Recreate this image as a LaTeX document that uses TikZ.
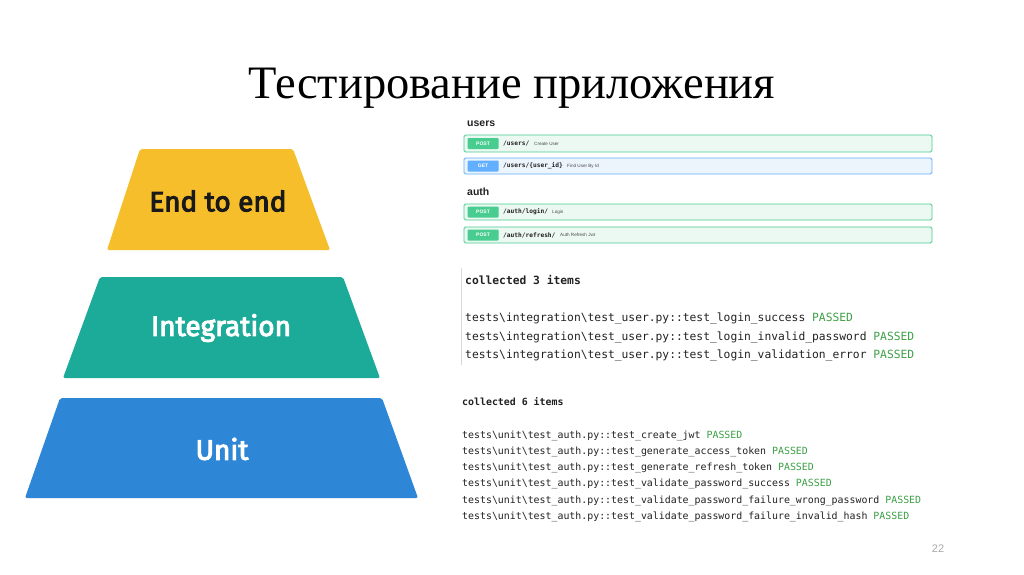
\documentclass[tikz,border=0pt]{standalone}
\usepackage{fontspec}
\setmainfont{Liberation Serif}
\newfontfamily\pyrfont[FakeBold=3.5]{Fira Sans}
\newfontfamily\codefont{DejaVu Sans Mono}
\newfontfamily\uifont{Liberation Sans}
\definecolor{eyellow}{RGB}{245,190,42}
\definecolor{iteal}{RGB}{27,171,152}
\definecolor{ublue}{RGB}{45,134,214}
\definecolor{postgreen}{RGB}{73,204,144}
\definecolor{postbg}{RGB}{236,248,242}
\definecolor{getblue}{RGB}{97,175,254}
\definecolor{getbg}{RGB}{236,244,252}
\definecolor{passgreen}{RGB}{60,160,70}
\definecolor{codeink}{RGB}{34,34,34}
\definecolor{pagegray}{RGB}{170,170,170}
\newcommand\bs{\textbackslash}
\newcommand\ok{\textcolor{passgreen}{PASSED}}
\begin{document}
\begin{tikzpicture}[x=1pt,y=-1pt,
  lvl/.style={font=\pyrfont\fontsize{28}{30}\selectfont},
  codeA/.style={anchor=base west,inner sep=0pt,text=codeink,font=\codefont\fontsize{11.3}{13}\selectfont},
  codeB/.style={anchor=base west,inner sep=0pt,text=codeink,font=\codefont\fontsize{9.9}{12}\selectfont},
  sect/.style={anchor=base west,inner sep=0pt,text=codeink,font=\uifont\bfseries\fontsize{10.5}{12}\selectfont},
  postrow/.style={draw=postgreen,fill=postbg,line width=0.8pt,rounded corners=1.5pt},
  getrow/.style={draw=getblue,fill=getbg,line width=0.8pt,rounded corners=1.5pt},
  badge/.style={inner sep=0pt,minimum width=31pt,minimum height=11pt,text=white,rounded corners=1pt,font=\uifont\bfseries\fontsize{5}{6}\selectfont},
  path/.style={anchor=west,inner sep=0pt,text=codeink,font=\codefont\bfseries\fontsize{6.2}{7}\selectfont},
  desc/.style={anchor=west,inner sep=0pt,text=black!70,font=\uifont\fontsize{4.6}{5}\selectfont}]
\useasboundingbox (0,0) rectangle (1024,574);
\fill[white] (0,0) rectangle (1024,574);

% title
\node[inner sep=0pt] (title) at (512,88) {\fontsize{46.5}{52}\selectfont Тестирование приложения};

% pyramid
\fill[eyellow,rounded corners=2pt] (140,149) -- (293,149) -- (330,250) -- (107,250) -- cycle;
\fill[iteal,rounded corners=2pt] (100,277) -- (343,277) -- (380,378) -- (63,378) -- cycle;
\fill[ublue,rounded corners=2pt] (60,398) -- (382,398) -- (418,498) -- (25,498) -- cycle;
\node[lvl,text=black!90] (e2e) at (218,201) {End to end};
\node[lvl,text=white] (integ) at (221,328) {Integration};
\node[lvl,text=white] (unit) at (222,449) {Unit};

% swagger panel
\node[sect] (users) at (467,126) {users};
\draw[postrow] (464,135) rectangle (932,152);
\node[badge,fill=postgreen] (b1) at (483,143.5) {POST};
\node[path] (p1) at (503,143.5) {/users/};
\node[desc] (d1) at (534,143.5) {Create User};
\draw[getrow] (464,158) rectangle (932,174);
\node[badge,fill=getblue] (b2) at (483,166) {GET};
\node[path] (p2) at (503,166) {/users/\{user\_id\}};
\node[desc] (d2) at (567,166) {Find User By Id};
\node[sect] (auth) at (467,195) {auth};
\draw[postrow] (464,204) rectangle (932,220);
\node[badge,fill=postgreen] (b3) at (483,212) {POST};
\node[path] (p3) at (503,212) {/auth/login/};
\node[desc] (d3) at (552,212) {Login};
\draw[postrow] (464,227) rectangle (932,243);
\node[badge,fill=postgreen] (b4) at (483,235) {POST};
\node[path] (p4) at (503,235) {/auth/refresh/};
\node[desc] (d4) at (560,235) {Auth Refresh Jwt};

% integration test output
\draw[black!15,line width=0.8pt] (461,268) -- (461,365);
\node[codeA,font=\codefont\bfseries\fontsize{11.3}{13}\selectfont] (c3) at (465,284) {collected 3 items};
\node[codeA] (i1) at (465,321) {tests\bs integration\bs test\_user.py::test\_login\_success \ok};
\node[codeA] (i2) at (465,340) {tests\bs integration\bs test\_user.py::test\_login\_invalid\_password \ok};
\node[codeA] (i3) at (465,358) {tests\bs integration\bs test\_user.py::test\_login\_validation\_error \ok};

% unit test output
\node[codeB,font=\codefont\bfseries\fontsize{9.9}{12}\selectfont] (c6) at (462,405.5) {collected 6 items};
\node[codeB] (u1) at (462,438.5) {tests\bs unit\bs test\_auth.py::test\_create\_jwt \ok};
\node[codeB] (u2) at (462,454.5) {tests\bs unit\bs test\_auth.py::test\_generate\_access\_token \ok};
\node[codeB] (u3) at (462,470.5) {tests\bs unit\bs test\_auth.py::test\_generate\_refresh\_token \ok};
\node[codeB] (u4) at (462,486.5) {tests\bs unit\bs test\_auth.py::test\_validate\_password\_success \ok};
\node[codeB] (u5) at (462,503.5) {tests\bs unit\bs test\_auth.py::test\_validate\_password\_failure\_wrong\_password \ok};
\node[codeB] (u6) at (462,519.5) {tests\bs unit\bs test\_auth.py::test\_validate\_password\_failure\_invalid\_hash \ok};

% page number
\node[text=pagegray,font=\uifont\fontsize{11}{12}\selectfont] (pg) at (938,549) {22};
\end{tikzpicture}
\end{document}
